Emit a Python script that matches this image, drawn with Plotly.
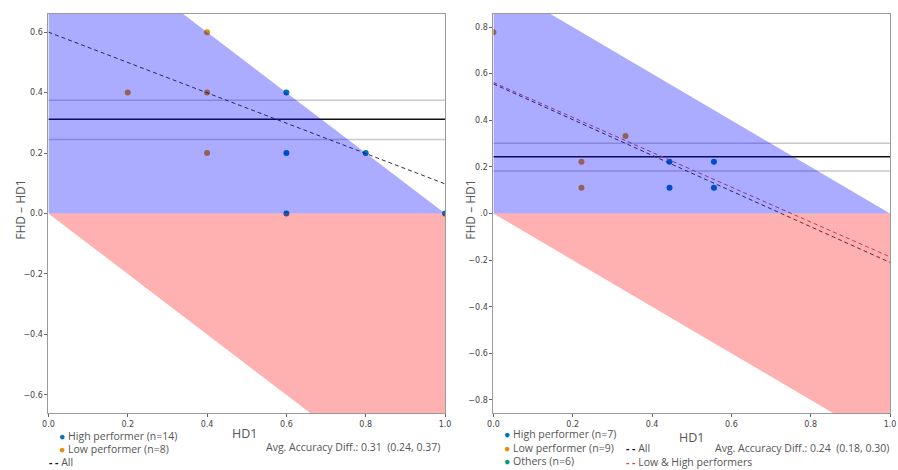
import plotly.graph_objects as go

# ---------------- data ----------------
x_ticks = [0.0, 0.2, 0.4, 0.6, 0.8, 1.0]
x_tick_labels = ["0.0", "0.2", "0.4", "0.6", "0.8", "1.0"]

left_y_ticks = [-0.6, -0.4, -0.2, 0.0, 0.2, 0.4, 0.6]
left_y_tick_labels = ["\u22120.6", "\u22120.4", "\u22120.2", "0.0", "0.2", "0.4", "0.6"]
right_y_ticks = [-0.8, -0.6, -0.4, -0.2, 0.0, 0.2, 0.4, 0.6, 0.8]
right_y_tick_labels = ["\u22120.8", "\u22120.6", "\u22120.4", "\u22120.2", ".0", "0.2", "0.4", "0.6", "0.8"]

left_high_x = [0.6, 0.6, 0.6, 0.8, 1.0]
left_high_y = [0.4, 0.2, 0.0, 0.2, 0.0]
left_low_x = [0.2, 0.4, 0.4, 0.4]
left_low_y = [0.4, 0.6, 0.4, 0.2]
left_mean = 0.312
left_ci = [0.245, 0.375]
left_fit_x = [0.0, 1.0]
left_fit_all = [0.6, 0.098]
left_yrange = [-0.66, 0.66]

right_high_x = [0.444, 0.444, 0.556, 0.556]
right_high_y = [0.222, 0.111, 0.222, 0.111]
right_low_x = [0.0, 0.222, 0.222, 0.333]
right_low_y = [0.778, 0.222, 0.111, 0.333]
right_mean = 0.243
right_ci = [0.182, 0.301]
right_fit_x = [0.0, 1.0]
right_fit_all = [0.556, -0.21]
right_fit_lh = [0.562, -0.186]
right_yrange = [-0.856, 0.856]

region_x_upper = [0, 0, 1, 0]
region_y_upper = [0, 1, 0, 0]
region_x_lower = [0, 1, 1, 0]
region_y_lower = [0, 0, -1, 0]

# ---------------- style ----------------
C_HIGH = "#0173b2"
C_LOW = "#de8f05"
C_OTHER = "#029e73"
C_BLUE_FILL = "rgba(0,0,255,0.33)"
C_RED_FILL = "rgba(255,0,0,0.31)"
TICK_FONT = dict(family="DejaVu Sans", size=8, color="#444444")
TEXT_FONT = dict(family="Open Sans", size=10.5, color="#555555")

fig = go.Figure()


def add_panel(xa, ya, hx, hy, lx, ly, mean, ci, fits):
    xref, yref = xa, ya
    fig.add_trace(go.Scatter(x=hx, y=hy, mode="markers", xaxis=xref, yaxis=yref,
                             marker=dict(color=C_HIGH, size=6), showlegend=False))
    fig.add_trace(go.Scatter(x=lx, y=ly, mode="markers", xaxis=xref, yaxis=yref,
                             marker=dict(color=C_LOW, size=6), showlegend=False))
    for v in ci:
        fig.add_trace(go.Scatter(x=[0, 1], y=[v, v], mode="lines", xaxis=xref, yaxis=yref,
                                 line=dict(color="#c8c8c8", width=1.5), showlegend=False))
    fig.add_trace(go.Scatter(x=[0, 1], y=[mean, mean], mode="lines", xaxis=xref, yaxis=yref,
                             line=dict(color="#111111", width=1.5), showlegend=False))
    for fy, col in fits:
        fig.add_trace(go.Scatter(x=[0.0, 1.0], y=fy, mode="lines", xaxis=xref, yaxis=yref,
                                 line=dict(color=col, width=1, dash="4px,3px"), showlegend=False))
    fig.add_trace(go.Scatter(x=region_x_upper, y=region_y_upper, mode="lines", fill="toself",
                             fillcolor=C_BLUE_FILL, line=dict(width=0), xaxis=xref, yaxis=yref,
                             showlegend=False, hoverinfo="skip"))
    fig.add_trace(go.Scatter(x=region_x_lower, y=region_y_lower, mode="lines", fill="toself",
                             fillcolor=C_RED_FILL, line=dict(width=0), xaxis=xref, yaxis=yref,
                             showlegend=False, hoverinfo="skip"))


add_panel("x", "y", left_high_x, left_high_y, left_low_x, left_low_y, left_mean, left_ci,
          [(left_fit_all, "#333333")])
add_panel("x2", "y2", right_high_x, right_high_y, right_low_x, right_low_y, right_mean, right_ci,
          [(right_fit_all, "#333333"), (right_fit_lh, "#d04a5a")])

W, H = 898, 470
y_dom = [(470 - 413) / H, (470 - 14) / H]
axis_common = dict(showgrid=False, zeroline=False, showline=True, mirror=True,
                   linecolor="#9a9a9a", linewidth=1, ticks="outside", ticklen=3,
                   tickcolor="#666666", tickfont=TICK_FONT)

fig.update_layout(
    width=W, height=H, margin=dict(l=0, r=0, t=0, b=0),
    paper_bgcolor="white", plot_bgcolor="white", showlegend=False,
    xaxis=dict(domain=[43 / W, 445 / W], range=[0, 1], tickvals=x_ticks, ticktext=x_tick_labels,
               anchor="y", **axis_common),
    yaxis=dict(domain=y_dom, range=left_yrange, tickvals=left_y_ticks, ticktext=left_y_tick_labels,
               anchor="x", **axis_common),
    xaxis2=dict(domain=[494 / W, 896 / W], range=[0, 1], tickvals=x_ticks, ticktext=x_tick_labels,
                anchor="y2", **axis_common),
    yaxis2=dict(domain=y_dom, range=right_yrange, tickvals=right_y_ticks,
                ticktext=right_y_tick_labels, anchor="x2", **axis_common),
)


def px(x):
    return x / W


def py(y):
    return (H - y) / H


def ann(text, x, y, xanchor="left", font=None, angle=0):
    fig.add_annotation(text=text, x=px(x), y=py(y), xref="paper", yref="paper",
                       xanchor=xanchor, yanchor="middle", showarrow=False,
                       font=font or TEXT_FONT, textangle=angle)


label_font = dict(family="Open Sans", size=12.5, color="#555555")
ylab_font = dict(family="Open Sans", size=12, color="#555555")

# axis labels
ann("HD1", 242, 433, "center", label_font)
ann("HD1", 695, 437, "center", label_font)
ann("FHD \u2013 HD1", 14, 210, "center", ylab_font, -90)
ann("FHD \u2013 HD1", 470, 210, "center", ylab_font, -90)


def bullet(c):
    return f"<span style='color:{c}'>\u25CF</span> "


def dash(c):
    return f"<span style='color:{c}'><b>- -</b></span> "


# left legend
ann(bullet(C_HIGH) + "High performer (n=14)", 52, 436)
ann(bullet(C_LOW) + "Low performer (n=8)", 52, 449)
ann(dash("#111111") + "All", 42, 462)
ann("Avg. Accuracy Diff.: 0.31  (0.24, 0.37)", 442, 447, "right")

# right legend
ann(bullet(C_HIGH) + "High performer (n=7)", 503, 434)
ann(bullet(C_LOW) + "Low performer (n=9)", 503, 448)
ann(bullet(C_OTHER) + "Others (n=6)", 503, 461)
ann(dash("#111111") + "All", 626, 448)
ann(dash("#d04a5a") + "Low &amp; High performers", 626, 462)
ann("Avg. Accuracy Diff.: 0.24  (0.18, 0.30)", 897, 448, "right")

fig.write_html("out.html",
               config={"displayModeBar": False},
               post_script="document.body.style.margin='0';document.body.style.overflow='hidden';")
